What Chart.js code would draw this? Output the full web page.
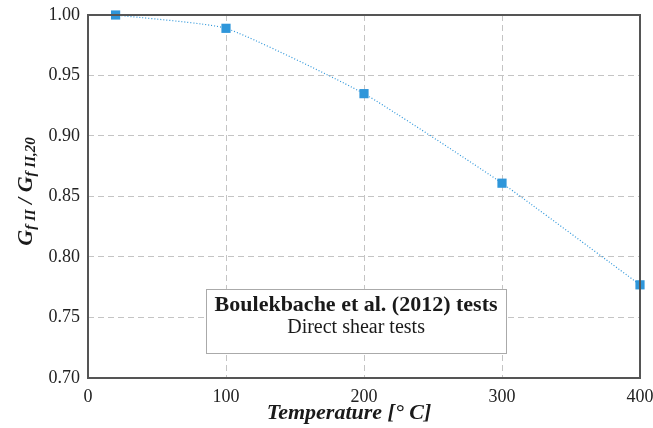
<!DOCTYPE html>
<html>
<head>
<meta charset="utf-8">
<script src="https://cdn.jsdelivr.net/npm/chart.js@4"></script>
<style>
  html, body { margin: 0; padding: 0; background: #fff; }
  #wrap { width: 653px; height: 428px; position: relative; }
</style>
</head>
<body>
<div id="wrap"><canvas id="chart" width="653" height="428"></canvas></div>
<script>
// data
let temps = [20, 100, 200, 300, 400];
let ratio = [1.000, 0.989, 0.935, 0.861, 0.777];
let xTicks = [0, 100, 200, 300, 400];
let yTicks = [0.70, 0.75, 0.80, 0.85, 0.90, 0.95, 1.00];
let xTitle = "Temperature [° C]";
let boxTitle = "Boulekbache et al. (2012) tests";
let boxSub = "Direct shear tests";

let serif = "'Liberation Serif', 'DejaVu Serif', serif";
let blue = "#2e96da";

// frame round the plot area
let framePlugin = {
  id: 'frame',
  afterDatasetsDraw(chart) {
    let a = chart.chartArea;
    let ctx = chart.ctx;
    ctx.save();
    ctx.strokeStyle = '#555';
    ctx.lineWidth = 2;
    ctx.strokeRect(a.left, a.top, a.right - a.left, a.bottom - a.top);
    ctx.restore();
  }
};

// legend-like text box
let boxPlugin = {
  id: 'noteBox',
  afterDraw(chart) {
    let xs = chart.scales.x, ys = chart.scales.y;
    let x1 = xs.getPixelForValue(85.5), x2 = xs.getPixelForValue(303);
    let y1 = ys.getPixelForValue(0.7736), y2 = ys.getPixelForValue(0.7207);
    let ctx = chart.ctx;
    ctx.save();
    ctx.fillStyle = '#fff';
    ctx.fillRect(x1, y1, x2 - x1, y2 - y1);
    ctx.strokeStyle = '#aaa';
    ctx.lineWidth = 1;
    ctx.strokeRect(Math.round(x1) + 0.5, Math.round(y1) + 0.5, Math.round(x2 - x1), Math.round(y2 - y1));
    ctx.fillStyle = '#1a1a1a';
    ctx.textAlign = 'center';
    ctx.textBaseline = 'middle';
    ctx.font = 'bold 22px ' + serif;
    ctx.fillText(boxTitle, (x1 + x2) / 2, y1 + 16);
    ctx.font = '20px ' + serif;
    ctx.fillText(boxSub, (x1 + x2) / 2, y1 + 39);
    ctx.restore();
  }
};

// axis titles (y one has subscripts)
let titlesPlugin = {
  id: 'titles',
  afterDraw(chart) {
    let a = chart.chartArea;
    let ctx = chart.ctx;
    ctx.save();
    ctx.fillStyle = '#1a1a1a';
    ctx.textAlign = 'center';
    ctx.textBaseline = 'middle';
    ctx.font = 'italic bold 22px ' + serif;
    ctx.fillText(xTitle, (a.left + a.right) / 2 - 15, 413);

    let parts = [
      ['G', 22, 0], ['f II', 15, 5], [' / ', 22, 0], ['G', 22, 0], ['f II,20', 15, 5]
    ];
    let total = 0;
    parts.forEach(p => {
      ctx.font = 'italic bold ' + p[1] + 'px ' + serif;
      total += ctx.measureText(p[0]).width;
    });
    ctx.translate(24, (a.top + a.bottom) / 2 - 5);
    ctx.rotate(-Math.PI / 2);
    ctx.textAlign = 'left';
    let x = -total / 2;
    parts.forEach(p => {
      ctx.font = 'italic bold ' + p[1] + 'px ' + serif;
      ctx.fillText(p[0], x, p[2] + 2);
      x += ctx.measureText(p[0]).width;
    });
    ctx.restore();
  }
};

new Chart("chart", {
  type: "line",
  data: {
    datasets: [{
      data: temps.map((t, i) => ({x: t, y: ratio[i]})),
      borderColor: blue,
      borderWidth: 1.2,
      borderDash: [1, 2],
      tension: 0.15,
      pointStyle: 'rect',
      pointRadius: 6.5,
      pointBackgroundColor: blue,
      pointBorderWidth: 0,
      clip: false
    }]
  },
  options: {
    responsive: false,
    animation: false,
    devicePixelRatio: 1,
    layout: {padding: {left: 0, top: 15, right: 13, bottom: 0}},
    plugins: {legend: {display: false}, tooltip: {enabled: false}},
    scales: {
      x: {
        type: 'linear',
        min: 0, max: 400,
        afterBuildTicks: s => { s.ticks = xTicks.map(v => ({value: v})); },
        afterFit: s => { s.height = 50; s.paddingLeft = 0; s.paddingRight = 0; },
        grid: {color: '#c4c4c4', lineWidth: 1, drawTicks: false},
        border: {display: false, dash: [6, 4]},
        ticks: {color: '#222', padding: 8, font: {family: serif, size: 18}}
      },
      y: {
        min: 0.70, max: 1.00,
        afterBuildTicks: s => { s.ticks = yTicks.map(v => ({value: v})); },
        afterFit: s => { s.width = 88; s.paddingTop = 0; s.paddingBottom = 0; },
        grid: {color: '#c4c4c4', lineWidth: 1, drawTicks: false},
        border: {display: false, dash: [6, 4]},
        ticks: {color: '#222', padding: 8, font: {family: serif, size: 18},
          callback: v => v.toFixed(2)}
      }
    }
  },
  plugins: [framePlugin, titlesPlugin, boxPlugin]
});
</script>
</body>
</html>
